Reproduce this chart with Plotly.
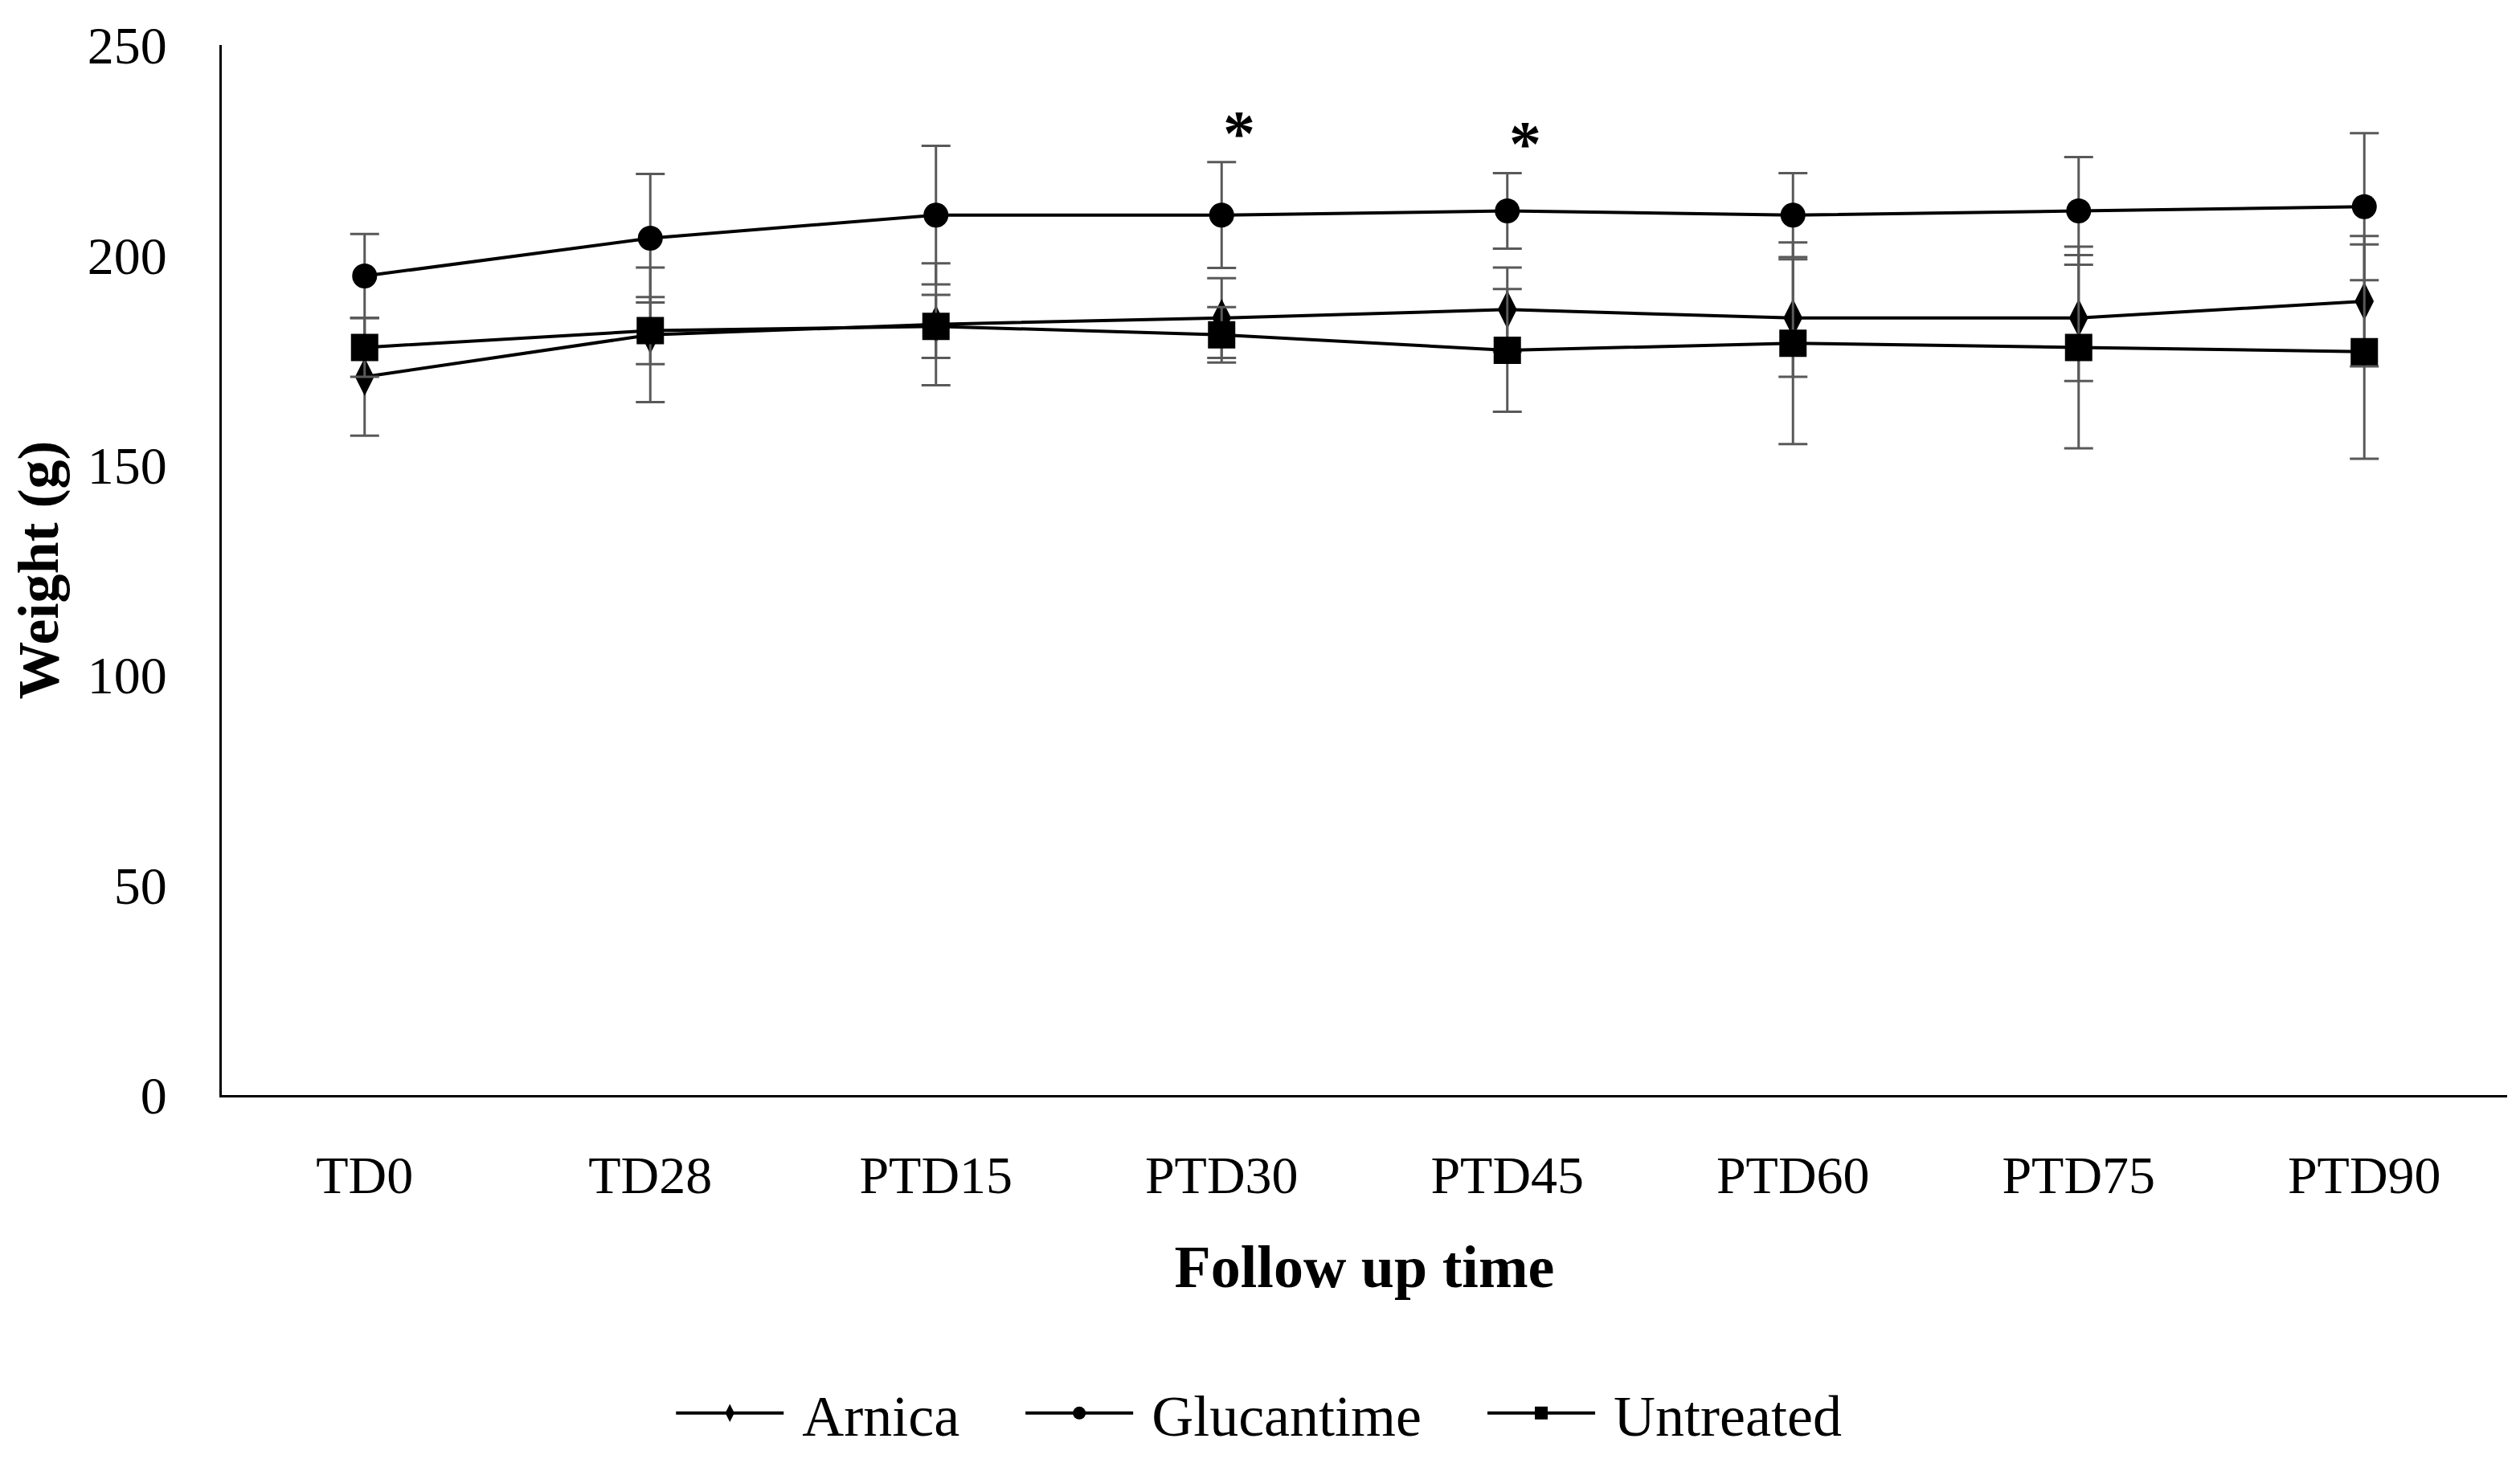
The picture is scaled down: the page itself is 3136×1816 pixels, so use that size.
import plotly.graph_objects as go

# follow-up time points
categories = ["TD0", "TD28", "PTD15", "PTD30", "PTD45", "PTD60", "PTD75", "PTD90"]

# mean weight (g) and SD per group
arnica = [171, 181, 183.5, 185, 187, 185, 185, 189]
arnica_sd = [14, 16, 14.5, 9.5, 10, 14, 15, 15.5]
glucantime = [195, 204, 209.5, 209.5, 210.5, 209.5, 210.5, 211.5]
glucantime_sd = [10, 15.3, 16.5, 12.6, 9, 10, 12.8, 17.5]
untreated = [178, 182, 183, 181, 177.3, 179, 178, 177]
untreated_sd = [7, 8, 7.5, 6.6, 14.6, 24, 24, 25.5]

# significance marks
star_cats = ["PTD30", "PTD45"]
star_y = [229, 226.5]

FONT = "Liberation Serif"
W, H = 3136, 1816
ERR_COLOR = "#595959"
PAD = "\u00a0" * 4  # extra room between legend entries


def _series(name, y, sd, symbol, size):
    return go.Scatter(
        x=categories,
        y=y,
        name="\u00a0" + name + PAD,
        mode="lines+markers",
        line={"color": "black", "width": 4},
        marker={"symbol": symbol, "size": size, "color": "black"},
        error_y={
            "type": "data",
            "array": sd,
            "visible": True,
            "color": ERR_COLOR,
            "thickness": 3,
            "width": 18,
        },
    )


fig = go.Figure()
fig.add_trace(_series("Arnica", arnica, arnica_sd, "diamond-tall", 34))
fig.add_trace(_series("Glucantime", glucantime, glucantime_sd, "circle", 31))
fig.add_trace(_series("Untreated", untreated, untreated_sd, "square", 34))

for cat, yv in zip(star_cats, star_y):
    fig.add_annotation(
        x=cat, y=yv, text="<b>*</b>", showarrow=False, xshift=22,
        font={"family": FONT, "size": 80, "color": "black"},
    )

fig.update_layout(
    width=W,
    height=H,
    margin={"l": 266, "r": 24, "t": 24, "b": 452},
    paper_bgcolor="white",
    plot_bgcolor="white",
    font={"family": FONT, "size": 66, "color": "black"},
    showlegend=True,
    legend={
        "orientation": "h",
        "x": 0.197,
        "xanchor": "left",
        "y": -0.303,
        "yanchor": "middle",
        "font": {"family": FONT, "size": 72},
        "itemwidth": 134,
    },
)
fig.update_xaxes(
    type="category",
    range=[-0.5, len(categories) - 0.5],
    showline=True,
    linecolor="black",
    linewidth=3,
    showgrid=False,
    ticks="",
    ticklabelstandoff=40,
    tickfont={"family": FONT, "size": 66},
    title={"text": "<b>Follow up time</b>", "font": {"family": FONT, "size": 74}, "standoff": 52},
)
fig.update_yaxes(
    range=[0, 250],
    dtick=50,
    showline=True,
    linecolor="black",
    linewidth=3,
    showgrid=False,
    zeroline=False,
    ticks="",
    ticklabelstandoff=52,
    ticklabeloverflow="allow",
    tickfont={"family": FONT, "size": 66},
    title={"text": "<b>Weight (g)</b>", "font": {"family": FONT, "size": 72}, "standoff": 38},
)

fig.write_html("out.html")
